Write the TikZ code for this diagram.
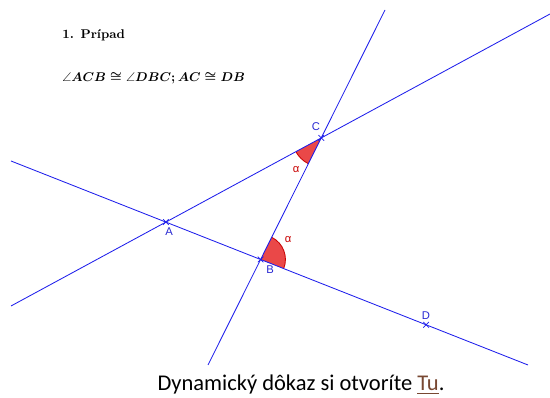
\documentclass[tikz,border=0pt]{standalone}
\usepackage{amsmath,amssymb}
\usepackage{fontspec}
\newfontfamily\linkfont{Carlito}
\newfontfamily\geofont{Liberation Sans}
\usetikzlibrary{angles,calc,shapes.misc}
\definecolor{lineblue}{RGB}{30,30,235}
\definecolor{labelblue}{RGB}{40,40,210}
\definecolor{anglered}{RGB}{230,40,40}
\definecolor{angleedge}{RGB}{200,0,0}
\definecolor{linkbrown}{RGB}{120,72,50}
\newcommand\claimtext{\mbox{\fontsize{9}{11}\selectfont\boldmath$\angle ACB \cong \angle DBC\mathpunct{;} AC \cong DB$}}
\tikzset{
  geoline/.style={draw=lineblue,line width=0.6pt},
  ptmark/.style={cross out,draw=lineblue,line width=0.5pt,minimum size=3.5pt,inner sep=0pt},
  ptlabel/.style={text=labelblue,font=\geofont\fontsize{8}{9}\selectfont,inner sep=0pt},
  sector/.style={draw=angleedge,fill=anglered,fill opacity=0.85,line width=0.6pt},
  alphalabel/.style={text=angleedge,font=\geofont\fontsize{8}{9}\selectfont,inner sep=0pt}
}

\begin{document}
\begin{tikzpicture}[x=0.025cm,y=0.025cm]
  \useasboundingbox (0,0) rectangle (550,398);
  \coordinate (P1) at (11,92);
  \coordinate (P2) at (550,384);
  \coordinate (Q1) at (208,33);
  \coordinate (Q2) at (385,388);
  \coordinate (R1) at (11,237);
  \coordinate (R2) at (528,33);
  \coordinate (A) at (intersection of P1--P2 and R1--R2);
  \coordinate (B) at (intersection of Q1--Q2 and R1--R2);
  \coordinate (C) at (intersection of P1--P2 and Q1--Q2);
  \coordinate (D) at ($(R1)!0.803!(R2)$);

  \pic[sector,angle radius=0.72cm] {angle=A--C--B};
  \pic[sector,angle radius=0.62cm] {angle=D--B--C};

  \draw[geoline] (P1) -- (P2);
  \draw[geoline] (Q1) -- (Q2);
  \draw[geoline] (R1) -- (R2);

  \node[ptmark] (mA) at (A) {};
  \node[ptmark] (mB) at (B) {};
  \node[ptmark] (mC) at (C) {};
  \node[ptmark] (mD) at (D) {};

  \node[ptlabel] (lA) at (169,166) {A};
  \node[ptlabel] (lB) at (270,128) {B};
  \node[ptlabel] (lC) at (316,271) {C};
  \node[ptlabel] (lD) at (426,82) {D};
  \node[alphalabel] (aC) at (296,228) {α};
  \node[alphalabel] (aB) at (288,158) {α};

  \node[anchor=west,inner sep=0pt] (title) at (62,363) {\small\bfseries 1. Prípad};
  \node[anchor=west,inner sep=0pt] (claim) at (62,320) {\claimtext};
  \node[font=\linkfont\fontsize{16}{18}\selectfont,inner sep=0pt] (link) at (301,13)
    {Dynamický dôkaz si otvoríte \textcolor{linkbrown}{\underline{Tu}}.};
\end{tikzpicture}
\end{document}
